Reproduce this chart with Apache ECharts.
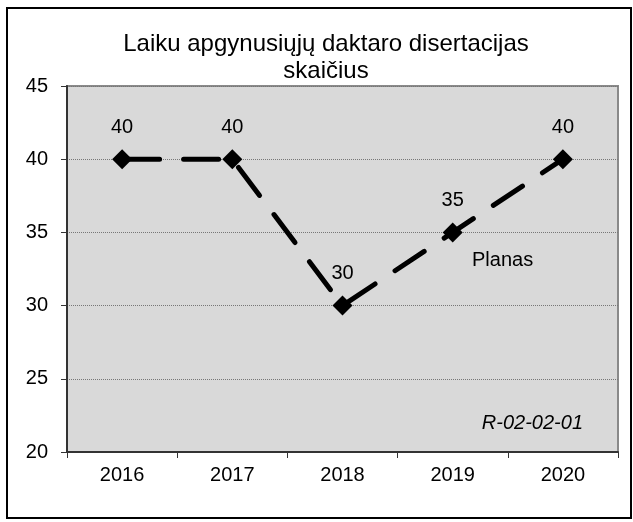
<!DOCTYPE html>
<html><head><meta charset="utf-8">
<script src="https://cdn.jsdelivr.net/npm/echarts@6/dist/echarts.min.js"></script>
<style>html,body{margin:0;padding:0;background:#fff}#c{width:633px;height:522px}</style>
</head><body><div id="c"></div>
<script>
const titleText = 'Laiku apgynusiųjų daktaro disertacijas\nskaičius';
const categories = ['2016', '2017', '2018', '2019', '2020'];
const values = [40, 40, 30, 35, 40];
const yTicks = [20, 25, 30, 35, 40, 45];
const noteLabel = 'Planas';
const codeLabel = 'R-02-02-01';

const chart = echarts.init(document.getElementById('c'), null, {renderer: 'canvas'});
const F = 'Liberation Sans, Arial, sans-serif';
const grid = {left: 67, top: 86, width: 551, height: 366};
chart.setOption({
  backgroundColor: '#fff',
  animation: false,
  title: {
    text: titleText, left: 326, textAlign: 'center', top: 31, padding: 0,
    textStyle: {fontFamily: F, fontSize: 24, fontWeight: 'normal', color: '#000', lineHeight: 27}
  },
  grid: Object.assign({show: true, backgroundColor: '#d9d9d9', borderColor: '#8a8a8a', borderWidth: 2}, grid),
  xAxis: {
    type: 'category', data: categories, boundaryGap: true,
    axisLine: {lineStyle: {color: '#333', width: 2}},
    axisTick: {show: true, length: 6, lineStyle: {color: '#333', width: 1}},
    axisLabel: {fontFamily: F, fontSize: 20, color: '#000', margin: 13},
    splitLine: {show: false}
  },
  yAxis: {
    type: 'value', min: yTicks[0], max: yTicks[yTicks.length - 1], interval: 5,
    axisLine: {show: true, lineStyle: {color: '#333', width: 2}},
    axisTick: {show: true, length: 6, lineStyle: {color: '#333', width: 1}},
    axisLabel: {fontFamily: F, fontSize: 20, color: '#000', margin: 19},
    splitLine: {show: true, lineStyle: {color: '#777', width: 1, type: [1, 1]}}
  },
  series: [{
    type: 'line', data: values,
    symbol: 'diamond', symbolSize: 20,
    itemStyle: {color: '#000'},
    lineStyle: {color: '#000', width: 5, type: [35, 24], cap: 'round', dashOffset: -2.5},
    label: {show: true, position: 'top', distance: 12, fontFamily: F, fontSize: 20, color: '#000'},
    z: 5
  }],
  graphic: [
    {type: 'rect', shape: {x: 7, y: 8, width: 624, height: 510}, style: {fill: null, stroke: '#000', lineWidth: 2}, z: 100},
    {type: 'text', left: 472, top: 250, style: {text: noteLabel, fontFamily: F, fontSize: 20, fill: '#000'}, z: 10},
    {type: 'text', right: 50, top: 413, style: {text: codeLabel, fontFamily: F, fontSize: 20, fontStyle: 'italic', fill: '#000'}, z: 10}
  ]
});
</script></body></html>
